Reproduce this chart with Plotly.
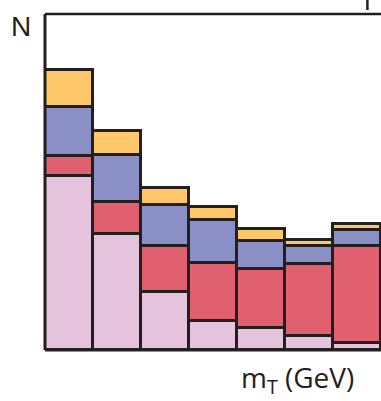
import plotly.graph_objects as go

bins = [0, 1, 2, 3, 4, 5, 6]
pink = [17.4, 11.6, 5.8, 2.9, 2.2, 1.4, 0.7]
red = [2.0, 3.2, 4.6, 5.8, 5.9, 7.2, 9.7]
blue = [4.9, 4.7, 4.1, 4.3, 2.8, 1.8, 1.6]
yellow = [3.7, 2.4, 1.7, 1.3, 1.2, 0.6, 0.6]

series = [
    ("pink", pink, "#E6C3DC"),
    ("red", red, "#E06070"),
    ("blue", blue, "#8A90C6"),
    ("yellow", yellow, "#FEC86A"),
]

fig = go.Figure()
for name, vals, col in series:
    fig.add_trace(go.Bar(
        x=bins, y=vals, name=name, width=1,
        marker=dict(color=col, line=dict(color="#231F20", width=3)),
        cliponaxis=False,
    ))

edge = "#231F20"
fig.update_layout(
    width=381, height=401,
    barmode="stack", bargap=0,
    showlegend=False,
    plot_bgcolor="white", paper_bgcolor="white",
    margin=dict(l=45, r=0, t=14, b=51),
    xaxis=dict(range=[-0.5, 6.5], showticklabels=False, showgrid=False,
               zeroline=False, ticks=""),
    yaxis=dict(range=[0, 33.6], showticklabels=False, showgrid=False,
               zeroline=False, ticks=""),
    shapes=[
        dict(type="line", xref="paper", yref="paper", x0=0, x1=1, y0=1, y1=1,
             line=dict(color=edge, width=2.5)),
        dict(type="line", xref="paper", yref="paper", x0=0, x1=0, y0=0, y1=1,
             line=dict(color=edge, width=3)),
        dict(type="line", xref="paper", yref="paper", x0=0, x1=1, y0=0, y1=0,
             line=dict(color=edge, width=3)),
        dict(type="line", xref="paper", yref="paper", x0=0.9595, x1=0.9595,
             y0=1.0417, y1=1.0119, line=dict(color=edge, width=2.5)),
    ],
    annotations=[
        dict(text="N", xref="paper", yref="paper", x=-0.07, y=0.964,
             xanchor="center", yanchor="middle", showarrow=False,
             font=dict(family="Liberation Sans, Arial", size=28, color="#231F20")),
        dict(text="m<sub>T</sub> (GeV)", xref="paper", yref="paper",
             x=0.75, y=-0.1505, xanchor="center", yanchor="bottom", showarrow=False,
             borderpad=0,
             font=dict(family="Open Sans", size=28, color="#231F20")),
    ],
)

fig.write_html("out.html")
